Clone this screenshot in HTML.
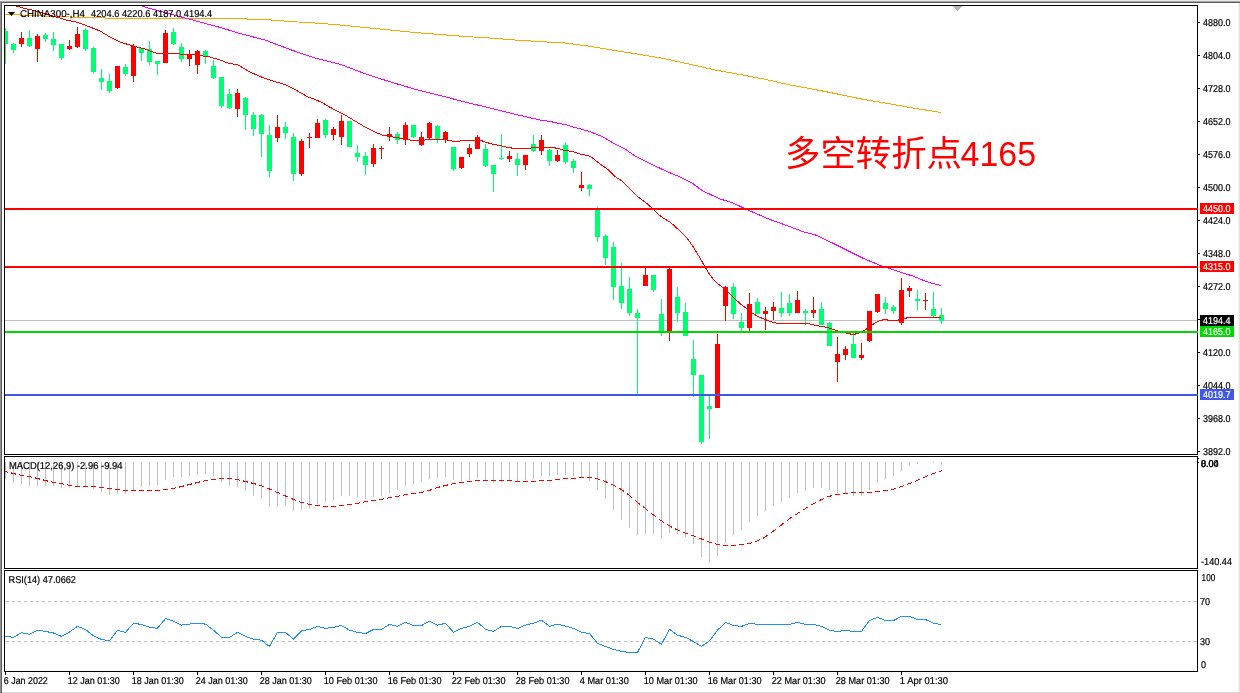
<!DOCTYPE html>
<html lang="zh"><head><meta charset="utf-8"><title>CHINA300 H4</title>
<style>
html,body{margin:0;padding:0;background:#fff;}
body{width:1240px;height:693px;overflow:hidden;}
svg{display:block;}
svg{will-change:transform;}
</style></head><body>
<svg width="1240" height="693" viewBox="0 0 1240 693" shape-rendering="crispEdges">
<rect x="0" y="0" width="1240" height="693" fill="#ffffff"/>
<rect x="0" y="0" width="1240" height="1" fill="#e8e8e8"/>
<rect x="0" y="1" width="1240" height="1" fill="#a8a8a8"/>
<rect x="0" y="2" width="1240" height="1" fill="#5c5c5c"/>
<rect x="0" y="2" width="1" height="693" fill="#909090"/>
<rect x="1" y="2" width="1" height="693" fill="#5c5c5c"/>
<rect x="1238" y="3" width="1" height="693" fill="#f3f3f3"/>
<rect x="1239" y="3" width="1" height="693" fill="#e2e2e2"/>
<rect x="2" y="692" width="1240" height="1" fill="#dadada"/>
<rect x="5" y="320" width="1192" height="1" fill="#c0c0c0"/>
<g id="candles">
<rect x="5" y="28" width="1" height="36" fill="#00ff72"/>
<rect x="5" y="31" width="3" height="13" fill="#00ff72"/>
<rect x="13" y="43" width="1" height="10" fill="#00ff72"/>
<rect x="11" y="44" width="5" height="6" fill="#00ff72"/>
<rect x="21" y="32" width="1" height="15" fill="#ff0000"/>
<rect x="19" y="38" width="5" height="6" fill="#ff0000"/>
<rect x="29" y="30" width="1" height="17" fill="#00ff72"/>
<rect x="27" y="38" width="5" height="8" fill="#00ff72"/>
<rect x="37" y="34" width="1" height="28" fill="#ff0000"/>
<rect x="35" y="36" width="5" height="13" fill="#ff0000"/>
<rect x="45" y="33" width="1" height="9" fill="#00ff72"/>
<rect x="43" y="35" width="5" height="4" fill="#00ff72"/>
<rect x="53" y="32" width="1" height="19" fill="#00ff72"/>
<rect x="51" y="39" width="5" height="6" fill="#00ff72"/>
<rect x="61" y="44" width="1" height="16" fill="#00ff72"/>
<rect x="59" y="44" width="5" height="14" fill="#00ff72"/>
<rect x="69" y="40" width="1" height="10" fill="#ff0000"/>
<rect x="67" y="46" width="5" height="3" fill="#ff0000"/>
<rect x="77" y="27" width="1" height="21" fill="#ff0000"/>
<rect x="75" y="34" width="5" height="13" fill="#ff0000"/>
<rect x="85" y="28" width="1" height="23" fill="#00ff72"/>
<rect x="83" y="30" width="5" height="19" fill="#00ff72"/>
<rect x="93" y="47" width="1" height="26" fill="#00ff72"/>
<rect x="91" y="48" width="5" height="24" fill="#00ff72"/>
<rect x="101" y="69" width="1" height="21" fill="#00ff72"/>
<rect x="99" y="78" width="5" height="4" fill="#00ff72"/>
<rect x="109" y="74" width="1" height="19" fill="#00ff72"/>
<rect x="107" y="81" width="5" height="10" fill="#00ff72"/>
<rect x="117" y="66" width="1" height="23" fill="#ff0000"/>
<rect x="115" y="66" width="5" height="22" fill="#ff0000"/>
<rect x="125" y="64" width="1" height="12" fill="#00ff72"/>
<rect x="123" y="67" width="5" height="7" fill="#00ff72"/>
<rect x="133" y="44" width="1" height="38" fill="#ff0000"/>
<rect x="131" y="46" width="5" height="30" fill="#ff0000"/>
<rect x="141" y="48" width="1" height="13" fill="#00ff72"/>
<rect x="139" y="48" width="5" height="5" fill="#00ff72"/>
<rect x="149" y="41" width="1" height="24" fill="#00ff72"/>
<rect x="147" y="49" width="5" height="13" fill="#00ff72"/>
<rect x="157" y="61" width="1" height="14" fill="#00ff72"/>
<rect x="155" y="61" width="5" height="3" fill="#00ff72"/>
<rect x="165" y="30" width="1" height="33" fill="#ff0000"/>
<rect x="163" y="33" width="5" height="30" fill="#ff0000"/>
<rect x="173" y="28" width="1" height="17" fill="#00ff72"/>
<rect x="171" y="32" width="5" height="12" fill="#00ff72"/>
<rect x="181" y="43" width="1" height="19" fill="#00ff72"/>
<rect x="179" y="47" width="5" height="12" fill="#00ff72"/>
<rect x="189" y="50" width="1" height="16" fill="#ff0000"/>
<rect x="187" y="54" width="5" height="5" fill="#ff0000"/>
<rect x="197" y="50" width="1" height="24" fill="#ff0000"/>
<rect x="195" y="51" width="5" height="14" fill="#ff0000"/>
<rect x="205" y="50" width="1" height="14" fill="#00ff72"/>
<rect x="203" y="51" width="5" height="5" fill="#00ff72"/>
<rect x="213" y="60" width="1" height="19" fill="#00ff72"/>
<rect x="211" y="66" width="5" height="12" fill="#00ff72"/>
<rect x="221" y="77" width="1" height="31" fill="#00ff72"/>
<rect x="219" y="77" width="5" height="29" fill="#00ff72"/>
<rect x="229" y="89" width="1" height="20" fill="#00ff72"/>
<rect x="227" y="94" width="5" height="14" fill="#00ff72"/>
<rect x="237" y="89" width="1" height="28" fill="#ff0000"/>
<rect x="235" y="93" width="5" height="16" fill="#ff0000"/>
<rect x="245" y="97" width="1" height="33" fill="#00ff72"/>
<rect x="243" y="98" width="5" height="17" fill="#00ff72"/>
<rect x="253" y="112" width="1" height="24" fill="#00ff72"/>
<rect x="251" y="115" width="5" height="14" fill="#00ff72"/>
<rect x="261" y="114" width="1" height="43" fill="#00ff72"/>
<rect x="259" y="115" width="5" height="19" fill="#00ff72"/>
<rect x="269" y="125" width="1" height="52" fill="#00ff72"/>
<rect x="267" y="135" width="5" height="36" fill="#00ff72"/>
<rect x="277" y="115" width="1" height="27" fill="#ff0000"/>
<rect x="275" y="127" width="5" height="11" fill="#ff0000"/>
<rect x="285" y="122" width="1" height="17" fill="#00ff72"/>
<rect x="283" y="127" width="5" height="6" fill="#00ff72"/>
<rect x="293" y="133" width="1" height="48" fill="#00ff72"/>
<rect x="291" y="137" width="5" height="37" fill="#00ff72"/>
<rect x="301" y="139" width="1" height="37" fill="#ff0000"/>
<rect x="299" y="141" width="5" height="33" fill="#ff0000"/>
<rect x="309" y="133" width="1" height="15" fill="#ff0000"/>
<rect x="307" y="137" width="5" height="1" fill="#ff0000"/>
<rect x="317" y="119" width="1" height="19" fill="#ff0000"/>
<rect x="315" y="123" width="5" height="15" fill="#ff0000"/>
<rect x="325" y="119" width="1" height="19" fill="#00ff72"/>
<rect x="323" y="120" width="5" height="15" fill="#00ff72"/>
<rect x="333" y="127" width="1" height="13" fill="#ff0000"/>
<rect x="331" y="129" width="5" height="6" fill="#ff0000"/>
<rect x="341" y="115" width="1" height="30" fill="#ff0000"/>
<rect x="339" y="121" width="5" height="16" fill="#ff0000"/>
<rect x="349" y="121" width="1" height="26" fill="#00ff72"/>
<rect x="347" y="121" width="5" height="26" fill="#00ff72"/>
<rect x="357" y="145" width="1" height="17" fill="#00ff72"/>
<rect x="355" y="153" width="5" height="4" fill="#00ff72"/>
<rect x="365" y="152" width="1" height="23" fill="#00ff72"/>
<rect x="363" y="156" width="5" height="9" fill="#00ff72"/>
<rect x="373" y="144" width="1" height="23" fill="#ff0000"/>
<rect x="371" y="148" width="5" height="16" fill="#ff0000"/>
<rect x="381" y="146" width="1" height="13" fill="#ff0000"/>
<rect x="379" y="148" width="5" height="1" fill="#ff0000"/>
<rect x="389" y="127" width="1" height="14" fill="#ff0000"/>
<rect x="387" y="134" width="5" height="3" fill="#ff0000"/>
<rect x="397" y="132" width="1" height="12" fill="#00ff72"/>
<rect x="395" y="134" width="5" height="6" fill="#00ff72"/>
<rect x="405" y="122" width="1" height="23" fill="#ff0000"/>
<rect x="403" y="125" width="5" height="15" fill="#ff0000"/>
<rect x="413" y="125" width="1" height="13" fill="#00ff72"/>
<rect x="411" y="125" width="5" height="12" fill="#00ff72"/>
<rect x="421" y="132" width="1" height="14" fill="#ff0000"/>
<rect x="419" y="137" width="5" height="8" fill="#ff0000"/>
<rect x="429" y="122" width="1" height="17" fill="#ff0000"/>
<rect x="427" y="123" width="5" height="15" fill="#ff0000"/>
<rect x="437" y="125" width="1" height="18" fill="#00ff72"/>
<rect x="435" y="126" width="5" height="13" fill="#00ff72"/>
<rect x="445" y="131" width="1" height="12" fill="#ff0000"/>
<rect x="443" y="132" width="5" height="8" fill="#ff0000"/>
<rect x="453" y="147" width="1" height="24" fill="#00ff72"/>
<rect x="451" y="147" width="5" height="22" fill="#00ff72"/>
<rect x="461" y="157" width="1" height="12" fill="#ff0000"/>
<rect x="459" y="157" width="5" height="11" fill="#ff0000"/>
<rect x="469" y="144" width="1" height="13" fill="#ff0000"/>
<rect x="467" y="148" width="5" height="6" fill="#ff0000"/>
<rect x="477" y="135" width="1" height="14" fill="#ff0000"/>
<rect x="475" y="137" width="5" height="12" fill="#ff0000"/>
<rect x="485" y="144" width="1" height="23" fill="#00ff72"/>
<rect x="483" y="149" width="5" height="17" fill="#00ff72"/>
<rect x="493" y="165" width="1" height="27" fill="#00ff72"/>
<rect x="491" y="165" width="5" height="9" fill="#00ff72"/>
<rect x="501" y="134" width="1" height="26" fill="#00ff72"/>
<rect x="499" y="158" width="5" height="1" fill="#00ff72"/>
<rect x="509" y="151" width="1" height="11" fill="#ff0000"/>
<rect x="507" y="156" width="5" height="3" fill="#ff0000"/>
<rect x="517" y="153" width="1" height="23" fill="#00ff72"/>
<rect x="515" y="159" width="5" height="6" fill="#00ff72"/>
<rect x="525" y="155" width="1" height="15" fill="#ff0000"/>
<rect x="523" y="155" width="5" height="10" fill="#ff0000"/>
<rect x="533" y="135" width="1" height="17" fill="#00ff72"/>
<rect x="531" y="144" width="5" height="7" fill="#00ff72"/>
<rect x="541" y="135" width="1" height="20" fill="#ff0000"/>
<rect x="539" y="140" width="5" height="11" fill="#ff0000"/>
<rect x="549" y="149" width="1" height="17" fill="#00ff72"/>
<rect x="547" y="150" width="5" height="11" fill="#00ff72"/>
<rect x="557" y="150" width="1" height="12" fill="#ff0000"/>
<rect x="555" y="155" width="5" height="6" fill="#ff0000"/>
<rect x="565" y="142" width="1" height="22" fill="#00ff72"/>
<rect x="563" y="145" width="5" height="17" fill="#00ff72"/>
<rect x="573" y="159" width="1" height="14" fill="#00ff72"/>
<rect x="571" y="161" width="5" height="7" fill="#00ff72"/>
<rect x="581" y="172" width="1" height="19" fill="#ff0000"/>
<rect x="579" y="185" width="5" height="3" fill="#ff0000"/>
<rect x="589" y="184" width="1" height="12" fill="#00ff72"/>
<rect x="587" y="185" width="5" height="4" fill="#00ff72"/>
<rect x="597" y="207" width="1" height="35" fill="#00ff72"/>
<rect x="595" y="208" width="5" height="29" fill="#00ff72"/>
<rect x="605" y="234" width="1" height="31" fill="#00ff72"/>
<rect x="603" y="236" width="5" height="22" fill="#00ff72"/>
<rect x="613" y="242" width="1" height="58" fill="#00ff72"/>
<rect x="611" y="247" width="5" height="40" fill="#00ff72"/>
<rect x="621" y="263" width="1" height="46" fill="#00ff72"/>
<rect x="619" y="286" width="5" height="17" fill="#00ff72"/>
<rect x="629" y="277" width="1" height="39" fill="#00ff72"/>
<rect x="627" y="289" width="5" height="24" fill="#00ff72"/>
<rect x="637" y="309" width="1" height="85" fill="#00ff72"/>
<rect x="635" y="313" width="5" height="5" fill="#00ff72"/>
<rect x="645" y="268" width="1" height="18" fill="#ff0000"/>
<rect x="643" y="275" width="5" height="11" fill="#ff0000"/>
<rect x="653" y="275" width="1" height="17" fill="#00ff72"/>
<rect x="651" y="275" width="5" height="15" fill="#00ff72"/>
<rect x="661" y="299" width="1" height="37" fill="#00ff72"/>
<rect x="659" y="314" width="5" height="18" fill="#00ff72"/>
<rect x="669" y="268" width="1" height="73" fill="#ff0000"/>
<rect x="667" y="269" width="5" height="62" fill="#ff0000"/>
<rect x="677" y="287" width="1" height="35" fill="#00ff72"/>
<rect x="675" y="297" width="5" height="16" fill="#00ff72"/>
<rect x="685" y="303" width="1" height="33" fill="#00ff72"/>
<rect x="683" y="312" width="5" height="24" fill="#00ff72"/>
<rect x="693" y="340" width="1" height="57" fill="#00ff72"/>
<rect x="691" y="359" width="5" height="16" fill="#00ff72"/>
<rect x="701" y="375" width="1" height="69" fill="#00ff72"/>
<rect x="699" y="375" width="5" height="67" fill="#00ff72"/>
<rect x="709" y="396" width="1" height="43" fill="#00ff72"/>
<rect x="707" y="406" width="5" height="3" fill="#00ff72"/>
<rect x="717" y="334" width="1" height="74" fill="#ff0000"/>
<rect x="715" y="344" width="5" height="64" fill="#ff0000"/>
<rect x="725" y="286" width="1" height="35" fill="#ff0000"/>
<rect x="723" y="287" width="5" height="19" fill="#ff0000"/>
<rect x="733" y="283" width="1" height="36" fill="#00ff72"/>
<rect x="731" y="287" width="5" height="27" fill="#00ff72"/>
<rect x="741" y="313" width="1" height="18" fill="#00ff72"/>
<rect x="739" y="322" width="5" height="6" fill="#00ff72"/>
<rect x="749" y="293" width="1" height="38" fill="#ff0000"/>
<rect x="747" y="304" width="5" height="24" fill="#ff0000"/>
<rect x="757" y="298" width="1" height="16" fill="#00ff72"/>
<rect x="755" y="302" width="5" height="12" fill="#00ff72"/>
<rect x="765" y="307" width="1" height="23" fill="#ff0000"/>
<rect x="763" y="311" width="5" height="3" fill="#ff0000"/>
<rect x="773" y="302" width="1" height="18" fill="#ff0000"/>
<rect x="771" y="307" width="5" height="4" fill="#ff0000"/>
<rect x="781" y="292" width="1" height="25" fill="#00ff72"/>
<rect x="779" y="308" width="5" height="5" fill="#00ff72"/>
<rect x="789" y="294" width="1" height="22" fill="#00ff72"/>
<rect x="787" y="303" width="5" height="10" fill="#00ff72"/>
<rect x="797" y="291" width="1" height="22" fill="#ff0000"/>
<rect x="795" y="300" width="5" height="13" fill="#ff0000"/>
<rect x="805" y="309" width="1" height="16" fill="#00ff72"/>
<rect x="803" y="311" width="5" height="2" fill="#00ff72"/>
<rect x="813" y="297" width="1" height="21" fill="#ff0000"/>
<rect x="811" y="310" width="5" height="3" fill="#ff0000"/>
<rect x="821" y="302" width="1" height="23" fill="#00ff72"/>
<rect x="819" y="309" width="5" height="16" fill="#00ff72"/>
<rect x="829" y="322" width="1" height="24" fill="#00ff72"/>
<rect x="827" y="323" width="5" height="23" fill="#00ff72"/>
<rect x="837" y="337" width="1" height="45" fill="#ff0000"/>
<rect x="835" y="354" width="5" height="8" fill="#ff0000"/>
<rect x="845" y="346" width="1" height="14" fill="#ff0000"/>
<rect x="843" y="349" width="5" height="6" fill="#ff0000"/>
<rect x="853" y="333" width="1" height="25" fill="#00ff72"/>
<rect x="851" y="344" width="5" height="14" fill="#00ff72"/>
<rect x="861" y="343" width="1" height="17" fill="#ff0000"/>
<rect x="859" y="355" width="5" height="3" fill="#ff0000"/>
<rect x="869" y="311" width="1" height="31" fill="#ff0000"/>
<rect x="867" y="311" width="5" height="30" fill="#ff0000"/>
<rect x="877" y="294" width="1" height="19" fill="#ff0000"/>
<rect x="875" y="294" width="5" height="18" fill="#ff0000"/>
<rect x="885" y="297" width="1" height="17" fill="#00ff72"/>
<rect x="883" y="303" width="5" height="6" fill="#00ff72"/>
<rect x="893" y="305" width="1" height="9" fill="#00ff72"/>
<rect x="891" y="307" width="5" height="4" fill="#00ff72"/>
<rect x="901" y="278" width="1" height="47" fill="#ff0000"/>
<rect x="899" y="290" width="5" height="33" fill="#ff0000"/>
<rect x="909" y="286" width="1" height="11" fill="#ff0000"/>
<rect x="907" y="288" width="5" height="3" fill="#ff0000"/>
<rect x="917" y="290" width="1" height="20" fill="#00ff72"/>
<rect x="915" y="299" width="5" height="2" fill="#00ff72"/>
<rect x="925" y="293" width="1" height="17" fill="#ff0000"/>
<rect x="923" y="300" width="5" height="1" fill="#ff0000"/>
<rect x="933" y="292" width="1" height="25" fill="#00ff72"/>
<rect x="931" y="309" width="5" height="7" fill="#00ff72"/>
<rect x="941" y="308" width="1" height="16" fill="#00ff72"/>
<rect x="939" y="315" width="5" height="6" fill="#00ff72"/>
</g>
<polyline points="5,14.5 20,15 49,16.2 82,17.5 114,18.2 150,18.2 200,18.4 240,18.8 265,19.5 290,21.5 315,23 340,25 365,27.5 390,30 415,32.5 440,34.5 465,36.5 490,38 515,40 540,41.6 565,43 590,46.25 615,50.5 640,54.5 665,58.75 690,64.25 715,70 740,74.5 765,79.25 790,85 815,89.5 840,94.5 860,98.75 885,103 910,107.5 941,112.5" fill="none" stroke="#ffa500" stroke-width="1" />
<polyline points="140,5.5 150,8.5 165,12.5 180,16.6 200,22 213,25.5 220,27.4 240,33.5 265,40 290,49.5 315,58 340,64.25 352,68.75 365,73.75 390,81.75 415,89.25 440,95.5 465,102 490,108 515,114.25 540,120 550,121.5 567,125 575,127.5 590,131.5 603,137 615,144 625,149 635,156 645,161 654,165.5 668,172 680,177 692,183 702,190.5 720,199 732,202.5 748,210 768,218.75 788,226 804,232 814.5,234.5 832.5,243 848.5,251 864.6,259 880.6,265.5 896.7,271 912.7,276 925,281 933,283.5 941,285.5" fill="none" stroke="#ff00ff" stroke-width="1" />
<polyline points="16,6 25,8.5 36,11 50,15 58,17.5 66,20 78,22.5 90,27 100,31 110,37 120,42 133,46 145,49 157,53.5 165,53.5 180,54 196,55 210,57 220,60 228,63 238,65 250,72 260,76.5 270,80 278,82.5 286,85 294,89 300,92.5 308,97 315,99.5 322,102.5 326,105 335,110 345,115 355,121 365,127 375,132 382,135 388,135.5 395,137.5 402,138.5 410,140 418,140.5 425,140 433,139.5 445,139.5 452,141 457,141.5 465,140 480,140 485,142 492,144 500,145.5 508,147.5 515,148.5 528,148.5 535,147.5 553,147.5 558,148.5 565,150.5 572,151.5 580,154 588,155.5 592,157.5 600,164 608,169.5 615,176.5 622,181 625,184 633,192 638,197 645,202 652,208 658,214 663,218 670,222 680,231 687,238 694,248 700,258 705,267 710,275 714,280 718,284 723,287.5 728,292 735,299 740,303.5 747,309 752,313 758,316.5 765,319.5 772,322 778,323.5 808,323.5 812,324.5 816,325.5 822,326.5 828,327.5 832,329 836,330.5 848,333.5 853,334.5 858,333.5 863,331 866,329.5 872,325 876,322.5 880,320.5 885,319.5 890,320.5 897,320.5 900,319.5 905,318.5 908,317.5 941,317.5" fill="none" stroke="#ff0000" stroke-width="1" />
<polygon points="953,6 962,6 957.5,11" fill="#b8b8b8"/>
<rect x="5" y="462" width="1" height="17" fill="#c0c0c0"/>
<rect x="13" y="462" width="1" height="21" fill="#c0c0c0"/>
<rect x="21" y="462" width="1" height="22" fill="#c0c0c0"/>
<rect x="29" y="462" width="1" height="24" fill="#c0c0c0"/>
<rect x="37" y="462" width="1" height="24" fill="#c0c0c0"/>
<rect x="45" y="462" width="1" height="24" fill="#c0c0c0"/>
<rect x="53" y="462" width="1" height="24" fill="#c0c0c0"/>
<rect x="61" y="462" width="1" height="26" fill="#c0c0c0"/>
<rect x="69" y="462" width="1" height="26" fill="#c0c0c0"/>
<rect x="77" y="462" width="1" height="25" fill="#c0c0c0"/>
<rect x="85" y="462" width="1" height="25" fill="#c0c0c0"/>
<rect x="93" y="462" width="1" height="27" fill="#c0c0c0"/>
<rect x="101" y="462" width="1" height="30" fill="#c0c0c0"/>
<rect x="109" y="462" width="1" height="33" fill="#c0c0c0"/>
<rect x="117" y="462" width="1" height="32" fill="#c0c0c0"/>
<rect x="125" y="462" width="1" height="32" fill="#c0c0c0"/>
<rect x="133" y="462" width="1" height="29" fill="#c0c0c0"/>
<rect x="141" y="462" width="1" height="25" fill="#c0c0c0"/>
<rect x="149" y="462" width="1" height="24" fill="#c0c0c0"/>
<rect x="157" y="462" width="1" height="23" fill="#c0c0c0"/>
<rect x="165" y="462" width="1" height="18" fill="#c0c0c0"/>
<rect x="173" y="462" width="1" height="15" fill="#c0c0c0"/>
<rect x="181" y="462" width="1" height="15" fill="#c0c0c0"/>
<rect x="189" y="462" width="1" height="14" fill="#c0c0c0"/>
<rect x="197" y="462" width="1" height="13" fill="#c0c0c0"/>
<rect x="205" y="462" width="1" height="12" fill="#c0c0c0"/>
<rect x="213" y="462" width="1" height="14" fill="#c0c0c0"/>
<rect x="221" y="462" width="1" height="20" fill="#c0c0c0"/>
<rect x="229" y="462" width="1" height="24" fill="#c0c0c0"/>
<rect x="237" y="462" width="1" height="25" fill="#c0c0c0"/>
<rect x="245" y="462" width="1" height="29" fill="#c0c0c0"/>
<rect x="253" y="462" width="1" height="34" fill="#c0c0c0"/>
<rect x="261" y="462" width="1" height="37" fill="#c0c0c0"/>
<rect x="269" y="462" width="1" height="45" fill="#c0c0c0"/>
<rect x="277" y="462" width="1" height="45" fill="#c0c0c0"/>
<rect x="285" y="462" width="1" height="44" fill="#c0c0c0"/>
<rect x="293" y="462" width="1" height="49" fill="#c0c0c0"/>
<rect x="301" y="462" width="1" height="48" fill="#c0c0c0"/>
<rect x="309" y="462" width="1" height="46" fill="#c0c0c0"/>
<rect x="317" y="462" width="1" height="42" fill="#c0c0c0"/>
<rect x="325" y="462" width="1" height="40" fill="#c0c0c0"/>
<rect x="333" y="462" width="1" height="38" fill="#c0c0c0"/>
<rect x="341" y="462" width="1" height="34" fill="#c0c0c0"/>
<rect x="349" y="462" width="1" height="34" fill="#c0c0c0"/>
<rect x="357" y="462" width="1" height="35" fill="#c0c0c0"/>
<rect x="365" y="462" width="1" height="37" fill="#c0c0c0"/>
<rect x="373" y="462" width="1" height="35" fill="#c0c0c0"/>
<rect x="381" y="462" width="1" height="34" fill="#c0c0c0"/>
<rect x="389" y="462" width="1" height="31" fill="#c0c0c0"/>
<rect x="397" y="462" width="1" height="28" fill="#c0c0c0"/>
<rect x="405" y="462" width="1" height="24" fill="#c0c0c0"/>
<rect x="413" y="462" width="1" height="22" fill="#c0c0c0"/>
<rect x="421" y="462" width="1" height="20" fill="#c0c0c0"/>
<rect x="429" y="462" width="1" height="17" fill="#c0c0c0"/>
<rect x="437" y="462" width="1" height="16" fill="#c0c0c0"/>
<rect x="445" y="462" width="1" height="15" fill="#c0c0c0"/>
<rect x="453" y="462" width="1" height="18" fill="#c0c0c0"/>
<rect x="461" y="462" width="1" height="19" fill="#c0c0c0"/>
<rect x="469" y="462" width="1" height="18" fill="#c0c0c0"/>
<rect x="477" y="462" width="1" height="16" fill="#c0c0c0"/>
<rect x="485" y="462" width="1" height="18" fill="#c0c0c0"/>
<rect x="493" y="462" width="1" height="21" fill="#c0c0c0"/>
<rect x="501" y="462" width="1" height="20" fill="#c0c0c0"/>
<rect x="509" y="462" width="1" height="19" fill="#c0c0c0"/>
<rect x="517" y="462" width="1" height="19" fill="#c0c0c0"/>
<rect x="525" y="462" width="1" height="18" fill="#c0c0c0"/>
<rect x="533" y="462" width="1" height="17" fill="#c0c0c0"/>
<rect x="541" y="462" width="1" height="14" fill="#c0c0c0"/>
<rect x="549" y="462" width="1" height="14" fill="#c0c0c0"/>
<rect x="557" y="462" width="1" height="13" fill="#c0c0c0"/>
<rect x="565" y="462" width="1" height="13" fill="#c0c0c0"/>
<rect x="573" y="462" width="1" height="14" fill="#c0c0c0"/>
<rect x="581" y="462" width="1" height="16" fill="#c0c0c0"/>
<rect x="589" y="462" width="1" height="19" fill="#c0c0c0"/>
<rect x="597" y="462" width="1" height="28" fill="#c0c0c0"/>
<rect x="605" y="462" width="1" height="37" fill="#c0c0c0"/>
<rect x="613" y="462" width="1" height="48" fill="#c0c0c0"/>
<rect x="621" y="462" width="1" height="58" fill="#c0c0c0"/>
<rect x="629" y="462" width="1" height="66" fill="#c0c0c0"/>
<rect x="637" y="462" width="1" height="73" fill="#c0c0c0"/>
<rect x="645" y="462" width="1" height="72" fill="#c0c0c0"/>
<rect x="653" y="462" width="1" height="72" fill="#c0c0c0"/>
<rect x="661" y="462" width="1" height="77" fill="#c0c0c0"/>
<rect x="669" y="462" width="1" height="71" fill="#c0c0c0"/>
<rect x="677" y="462" width="1" height="72" fill="#c0c0c0"/>
<rect x="685" y="462" width="1" height="75" fill="#c0c0c0"/>
<rect x="693" y="462" width="1" height="82" fill="#c0c0c0"/>
<rect x="701" y="462" width="1" height="95" fill="#c0c0c0"/>
<rect x="709" y="462" width="1" height="101" fill="#c0c0c0"/>
<rect x="717" y="462" width="1" height="94" fill="#c0c0c0"/>
<rect x="725" y="462" width="1" height="81" fill="#c0c0c0"/>
<rect x="733" y="462" width="1" height="73" fill="#c0c0c0"/>
<rect x="741" y="462" width="1" height="68" fill="#c0c0c0"/>
<rect x="749" y="462" width="1" height="60" fill="#c0c0c0"/>
<rect x="757" y="462" width="1" height="54" fill="#c0c0c0"/>
<rect x="765" y="462" width="1" height="49" fill="#c0c0c0"/>
<rect x="773" y="462" width="1" height="44" fill="#c0c0c0"/>
<rect x="781" y="462" width="1" height="40" fill="#c0c0c0"/>
<rect x="789" y="462" width="1" height="36" fill="#c0c0c0"/>
<rect x="797" y="462" width="1" height="31" fill="#c0c0c0"/>
<rect x="805" y="462" width="1" height="29" fill="#c0c0c0"/>
<rect x="813" y="462" width="1" height="26" fill="#c0c0c0"/>
<rect x="821" y="462" width="1" height="26" fill="#c0c0c0"/>
<rect x="829" y="462" width="1" height="28" fill="#c0c0c0"/>
<rect x="837" y="462" width="1" height="31" fill="#c0c0c0"/>
<rect x="845" y="462" width="1" height="31" fill="#c0c0c0"/>
<rect x="853" y="462" width="1" height="34" fill="#c0c0c0"/>
<rect x="861" y="462" width="1" height="34" fill="#c0c0c0"/>
<rect x="869" y="462" width="1" height="28" fill="#c0c0c0"/>
<rect x="877" y="462" width="1" height="21" fill="#c0c0c0"/>
<rect x="885" y="462" width="1" height="17" fill="#c0c0c0"/>
<rect x="893" y="462" width="1" height="14" fill="#c0c0c0"/>
<rect x="901" y="462" width="1" height="9" fill="#c0c0c0"/>
<rect x="909" y="462" width="1" height="4" fill="#c0c0c0"/>
<rect x="917" y="462" width="1" height="2" fill="#c0c0c0"/>
<rect x="933" y="462" width="1" height="1" fill="#c0c0c0"/>
<rect x="941" y="462" width="1" height="3" fill="#c0c0c0"/>
<line x1="5" y1="471.5" x2="8" y2="472.125" stroke="#ff0000" stroke-width="1"/>
<line x1="11" y1="472.875" x2="16" y2="474.125" stroke="#ff0000" stroke-width="1"/>
<line x1="19" y1="474.875" x2="24" y2="475.812" stroke="#ff0000" stroke-width="1"/>
<line x1="27" y1="476.188" x2="32" y2="477.125" stroke="#ff0000" stroke-width="1"/>
<line x1="35" y1="477.875" x2="40" y2="479.125" stroke="#ff0000" stroke-width="1"/>
<line x1="43" y1="479.875" x2="48" y2="481.125" stroke="#ff0000" stroke-width="1"/>
<line x1="51" y1="481.875" x2="56" y2="482.812" stroke="#ff0000" stroke-width="1"/>
<line x1="59" y1="483.188" x2="64" y2="484.125" stroke="#ff0000" stroke-width="1"/>
<line x1="67" y1="484.875" x2="72" y2="485.812" stroke="#ff0000" stroke-width="1"/>
<line x1="75" y1="486.188" x2="80" y2="486.5" stroke="#ff0000" stroke-width="1"/>
<line x1="83" y1="486.5" x2="88" y2="486.5" stroke="#ff0000" stroke-width="1"/>
<line x1="91" y1="486.5" x2="96" y2="486.812" stroke="#ff0000" stroke-width="1"/>
<line x1="99" y1="487.188" x2="104" y2="487.812" stroke="#ff0000" stroke-width="1"/>
<line x1="107" y1="488.188" x2="112" y2="488.812" stroke="#ff0000" stroke-width="1"/>
<line x1="115" y1="489.188" x2="120" y2="489.812" stroke="#ff0000" stroke-width="1"/>
<line x1="123" y1="490.188" x2="128" y2="490.5" stroke="#ff0000" stroke-width="1"/>
<line x1="131" y1="490.5" x2="136" y2="490.5" stroke="#ff0000" stroke-width="1"/>
<line x1="139" y1="490.5" x2="144" y2="490.5" stroke="#ff0000" stroke-width="1"/>
<line x1="147" y1="490.5" x2="152" y2="490.5" stroke="#ff0000" stroke-width="1"/>
<line x1="155" y1="490.5" x2="160" y2="490.188" stroke="#ff0000" stroke-width="1"/>
<line x1="163" y1="489.812" x2="168" y2="489.188" stroke="#ff0000" stroke-width="1"/>
<line x1="171" y1="488.812" x2="176" y2="487.875" stroke="#ff0000" stroke-width="1"/>
<line x1="179" y1="487.125" x2="184" y2="485.875" stroke="#ff0000" stroke-width="1"/>
<line x1="187" y1="485.125" x2="192" y2="483.875" stroke="#ff0000" stroke-width="1"/>
<line x1="195" y1="483.125" x2="200" y2="481.875" stroke="#ff0000" stroke-width="1"/>
<line x1="203" y1="481.125" x2="208" y2="480.188" stroke="#ff0000" stroke-width="1"/>
<line x1="211" y1="479.812" x2="216" y2="479.188" stroke="#ff0000" stroke-width="1"/>
<line x1="219" y1="478.812" x2="224" y2="478.5" stroke="#ff0000" stroke-width="1"/>
<line x1="227" y1="478.5" x2="232" y2="478.812" stroke="#ff0000" stroke-width="1"/>
<line x1="235" y1="479.188" x2="240" y2="480.125" stroke="#ff0000" stroke-width="1"/>
<line x1="243" y1="480.875" x2="248" y2="482.125" stroke="#ff0000" stroke-width="1"/>
<line x1="251" y1="482.875" x2="256" y2="484.125" stroke="#ff0000" stroke-width="1"/>
<line x1="259" y1="484.875" x2="264" y2="486.594" stroke="#ff0000" stroke-width="1"/>
<line x1="267" y1="487.906" x2="272" y2="490.094" stroke="#ff0000" stroke-width="1"/>
<line x1="275" y1="491.406" x2="280" y2="493.594" stroke="#ff0000" stroke-width="1"/>
<line x1="283" y1="494.906" x2="288" y2="497.094" stroke="#ff0000" stroke-width="1"/>
<line x1="291" y1="498.406" x2="296" y2="500.438" stroke="#ff0000" stroke-width="1"/>
<line x1="299" y1="501.562" x2="304" y2="503.125" stroke="#ff0000" stroke-width="1"/>
<line x1="307" y1="503.875" x2="312" y2="504.812" stroke="#ff0000" stroke-width="1"/>
<line x1="315" y1="505.188" x2="320" y2="505.812" stroke="#ff0000" stroke-width="1"/>
<line x1="323" y1="506.188" x2="328" y2="506.5" stroke="#ff0000" stroke-width="1"/>
<line x1="331" y1="506.5" x2="336" y2="506.188" stroke="#ff0000" stroke-width="1"/>
<line x1="339" y1="505.812" x2="344" y2="505.188" stroke="#ff0000" stroke-width="1"/>
<line x1="347" y1="504.812" x2="352" y2="504.188" stroke="#ff0000" stroke-width="1"/>
<line x1="355" y1="503.812" x2="360" y2="502.875" stroke="#ff0000" stroke-width="1"/>
<line x1="363" y1="502.125" x2="368" y2="501.188" stroke="#ff0000" stroke-width="1"/>
<line x1="371" y1="500.812" x2="376" y2="500.188" stroke="#ff0000" stroke-width="1"/>
<line x1="379" y1="499.812" x2="384" y2="498.875" stroke="#ff0000" stroke-width="1"/>
<line x1="387" y1="498.125" x2="392" y2="497.188" stroke="#ff0000" stroke-width="1"/>
<line x1="395" y1="496.812" x2="400" y2="495.875" stroke="#ff0000" stroke-width="1"/>
<line x1="403" y1="495.125" x2="408" y2="494.188" stroke="#ff0000" stroke-width="1"/>
<line x1="411" y1="493.812" x2="416" y2="493.188" stroke="#ff0000" stroke-width="1"/>
<line x1="419" y1="492.812" x2="424" y2="491.875" stroke="#ff0000" stroke-width="1"/>
<line x1="427" y1="491.125" x2="432" y2="489.562" stroke="#ff0000" stroke-width="1"/>
<line x1="435" y1="488.438" x2="440" y2="486.875" stroke="#ff0000" stroke-width="1"/>
<line x1="443" y1="486.125" x2="448" y2="484.875" stroke="#ff0000" stroke-width="1"/>
<line x1="451" y1="484.125" x2="456" y2="483.188" stroke="#ff0000" stroke-width="1"/>
<line x1="459" y1="482.812" x2="464" y2="482.188" stroke="#ff0000" stroke-width="1"/>
<line x1="467" y1="481.812" x2="472" y2="481.188" stroke="#ff0000" stroke-width="1"/>
<line x1="475" y1="480.812" x2="480" y2="480.5" stroke="#ff0000" stroke-width="1"/>
<line x1="483" y1="480.5" x2="488" y2="480.5" stroke="#ff0000" stroke-width="1"/>
<line x1="491" y1="480.5" x2="496" y2="480.5" stroke="#ff0000" stroke-width="1"/>
<line x1="499" y1="480.5" x2="504" y2="480.5" stroke="#ff0000" stroke-width="1"/>
<line x1="507" y1="480.5" x2="512" y2="480.812" stroke="#ff0000" stroke-width="1"/>
<line x1="515" y1="481.188" x2="520" y2="481.5" stroke="#ff0000" stroke-width="1"/>
<line x1="523" y1="481.5" x2="528" y2="481.5" stroke="#ff0000" stroke-width="1"/>
<line x1="531" y1="481.5" x2="536" y2="481.188" stroke="#ff0000" stroke-width="1"/>
<line x1="539" y1="480.812" x2="544" y2="480.5" stroke="#ff0000" stroke-width="1"/>
<line x1="547" y1="480.5" x2="552" y2="480.188" stroke="#ff0000" stroke-width="1"/>
<line x1="555" y1="479.812" x2="560" y2="479.188" stroke="#ff0000" stroke-width="1"/>
<line x1="563" y1="478.812" x2="568" y2="478.5" stroke="#ff0000" stroke-width="1"/>
<line x1="571" y1="478.5" x2="576" y2="478.188" stroke="#ff0000" stroke-width="1"/>
<line x1="579" y1="477.812" x2="584" y2="477.5" stroke="#ff0000" stroke-width="1"/>
<line x1="587" y1="477.5" x2="592" y2="477.812" stroke="#ff0000" stroke-width="1"/>
<line x1="595" y1="478.188" x2="600" y2="479.438" stroke="#ff0000" stroke-width="1"/>
<line x1="603" y1="480.562" x2="608" y2="482.594" stroke="#ff0000" stroke-width="1"/>
<line x1="611" y1="483.906" x2="616" y2="486.406" stroke="#ff0000" stroke-width="1"/>
<line x1="619" y1="488.094" x2="624" y2="491.375" stroke="#ff0000" stroke-width="1"/>
<line x1="627" y1="493.625" x2="632" y2="497.688" stroke="#ff0000" stroke-width="1"/>
<line x1="635" y1="500.312" x2="640" y2="504.375" stroke="#ff0000" stroke-width="1"/>
<line x1="643" y1="506.625" x2="648" y2="510.531" stroke="#ff0000" stroke-width="1"/>
<line x1="651" y1="512.969" x2="656" y2="516.875" stroke="#ff0000" stroke-width="1"/>
<line x1="659" y1="519.125" x2="664" y2="522.562" stroke="#ff0000" stroke-width="1"/>
<line x1="667" y1="524.438" x2="672" y2="527.25" stroke="#ff0000" stroke-width="1"/>
<line x1="675" y1="528.75" x2="680" y2="531.094" stroke="#ff0000" stroke-width="1"/>
<line x1="683" y1="532.406" x2="688" y2="534.125" stroke="#ff0000" stroke-width="1"/>
<line x1="691" y1="534.875" x2="696" y2="536.594" stroke="#ff0000" stroke-width="1"/>
<line x1="699" y1="537.906" x2="704" y2="540.094" stroke="#ff0000" stroke-width="1"/>
<line x1="707" y1="541.406" x2="712" y2="543.125" stroke="#ff0000" stroke-width="1"/>
<line x1="715" y1="543.875" x2="720" y2="544.812" stroke="#ff0000" stroke-width="1"/>
<line x1="723" y1="545.188" x2="728" y2="545.5" stroke="#ff0000" stroke-width="1"/>
<line x1="731" y1="545.5" x2="736" y2="545.188" stroke="#ff0000" stroke-width="1"/>
<line x1="739" y1="544.812" x2="744" y2="544.188" stroke="#ff0000" stroke-width="1"/>
<line x1="747" y1="543.812" x2="752" y2="542.719" stroke="#ff0000" stroke-width="1"/>
<line x1="755" y1="541.781" x2="760" y2="539.75" stroke="#ff0000" stroke-width="1"/>
<line x1="763" y1="538.25" x2="768" y2="535.125" stroke="#ff0000" stroke-width="1"/>
<line x1="771" y1="532.875" x2="776" y2="529.125" stroke="#ff0000" stroke-width="1"/>
<line x1="779" y1="526.875" x2="784" y2="522.969" stroke="#ff0000" stroke-width="1"/>
<line x1="787" y1="520.531" x2="792" y2="516.938" stroke="#ff0000" stroke-width="1"/>
<line x1="795" y1="515.062" x2="800" y2="511.938" stroke="#ff0000" stroke-width="1"/>
<line x1="803" y1="510.062" x2="808" y2="506.938" stroke="#ff0000" stroke-width="1"/>
<line x1="811" y1="505.062" x2="816" y2="502.25" stroke="#ff0000" stroke-width="1"/>
<line x1="819" y1="500.75" x2="824" y2="498.406" stroke="#ff0000" stroke-width="1"/>
<line x1="827" y1="497.094" x2="832" y2="495.531" stroke="#ff0000" stroke-width="1"/>
<line x1="835" y1="494.969" x2="840" y2="494.188" stroke="#ff0000" stroke-width="1"/>
<line x1="843" y1="493.812" x2="848" y2="493.188" stroke="#ff0000" stroke-width="1"/>
<line x1="851" y1="492.812" x2="856" y2="492.5" stroke="#ff0000" stroke-width="1"/>
<line x1="859" y1="492.5" x2="864" y2="492.5" stroke="#ff0000" stroke-width="1"/>
<line x1="867" y1="492.5" x2="872" y2="492.188" stroke="#ff0000" stroke-width="1"/>
<line x1="875" y1="491.812" x2="880" y2="491.188" stroke="#ff0000" stroke-width="1"/>
<line x1="883" y1="490.812" x2="888" y2="490.188" stroke="#ff0000" stroke-width="1"/>
<line x1="891" y1="489.812" x2="896" y2="488.562" stroke="#ff0000" stroke-width="1"/>
<line x1="899" y1="487.438" x2="904" y2="485.562" stroke="#ff0000" stroke-width="1"/>
<line x1="907" y1="484.438" x2="912" y2="482.562" stroke="#ff0000" stroke-width="1"/>
<line x1="915" y1="481.438" x2="920" y2="479.25" stroke="#ff0000" stroke-width="1"/>
<line x1="923" y1="477.75" x2="928" y2="475.562" stroke="#ff0000" stroke-width="1"/>
<line x1="931" y1="474.438" x2="936" y2="472.562" stroke="#ff0000" stroke-width="1"/>
<line x1="939" y1="471.438" x2="942.5" y2="470.5" stroke="#ff0000" stroke-width="1"/>
<line x1="6" y1="601.5" x2="1197" y2="601.5" stroke="#c0c0c0" stroke-width="1" stroke-dasharray="3 3"/>
<line x1="6" y1="641.5" x2="1197" y2="641.5" stroke="#c0c0c0" stroke-width="1" stroke-dasharray="3 3"/>
<polyline points="5.5,636.4 13.5,637.3 21.5,632.6 29.5,634.3 37.5,630.1 45.5,631.4 53.5,633 61.5,636.4 69.5,632 77.5,626.4 85.5,629.5 93.5,635.8 101.5,639.5 109.5,640.8 117.5,630.4 125.5,632.3 133.5,623.2 141.5,624.5 149.5,627.3 157.5,628.3 165.5,618.6 173.5,621.1 181.5,625.1 189.5,624.1 197.5,623.3 205.5,624.1 213.5,630.2 221.5,637.4 229.5,637.4 237.5,632.4 245.5,636.4 253.5,639.3 261.5,640.2 269.5,646.5 277.5,632.4 285.5,632.4 293.5,639.2 301.5,630.8 309.5,629.5 317.5,626.4 325.5,628.3 333.5,627.3 341.5,625.5 349.5,630.2 357.5,632.3 365.5,633.5 373.5,629.5 381.5,629.5 389.5,624.3 397.5,626.4 405.5,622.4 413.5,625.5 421.5,625.5 429.5,621.1 437.5,625.2 445.5,623.3 453.5,632.3 461.5,628.3 469.5,626.4 477.5,622.3 485.5,629.3 493.5,631.4 501.5,626.4 509.5,626.4 517.5,628.5 525.5,625.1 533.5,623.3 541.5,620.1 549.5,626.4 557.5,624.1 565.5,626.1 573.5,628.3 581.5,632.3 589.5,633.5 597.5,643.3 605.5,646.5 613.5,649.4 621.5,651.5 629.5,652.4 637.5,652.4 645.5,637.4 653.5,639.2 661.5,644.3 669.5,629.3 677.5,635.2 685.5,637.4 693.5,641.5 701.5,646.5 709.5,640.8 717.5,630.2 725.5,622.4 733.5,625.5 741.5,626.4 749.5,623.3 757.5,624.3 765.5,624.3 773.5,624.3 781.5,624.3 789.5,624.3 797.5,622.4 805.5,624.3 813.5,624.3 821.5,626.4 829.5,630.4 837.5,631.4 845.5,630.4 853.5,631.4 861.5,631.4 869.5,620.5 877.5,617.4 885.5,620.5 893.5,620.5 901.5,616.4 909.5,616.4 917.5,619.5 925.5,619.5 933.5,623.3 941.5,624.5" fill="none" stroke="#1e90ff" stroke-width="1" />
<rect x="4" y="5" width="1194" height="1" fill="#000"/>
<rect x="4" y="454" width="1194" height="1" fill="#000"/>
<rect x="4" y="5" width="1" height="450" fill="#000"/>
<rect x="1197" y="5" width="1" height="450" fill="#000"/>
<rect x="4" y="456" width="1194" height="1" fill="#000"/>
<rect x="4" y="568" width="1194" height="1" fill="#000"/>
<rect x="4" y="456" width="1" height="113" fill="#000"/>
<rect x="1197" y="456" width="1" height="113" fill="#000"/>
<rect x="4" y="570" width="1194" height="1" fill="#000"/>
<rect x="4" y="671" width="1194" height="1" fill="#000"/>
<rect x="4" y="570" width="1" height="102" fill="#000"/>
<rect x="1197" y="570" width="1" height="102" fill="#000"/>
<rect x="5" y="208" width="1193" height="2" fill="#ff0000"/>
<rect x="5" y="266" width="1193" height="2" fill="#ff0000"/>
<rect x="5" y="331" width="1193" height="2" fill="#00d800"/>
<rect x="5" y="394" width="1193" height="2" fill="#4257e8"/>
<rect x="5" y="672" width="1" height="3" fill="#000"/>
<rect x="69" y="672" width="1" height="3" fill="#000"/>
<rect x="133" y="672" width="1" height="3" fill="#000"/>
<rect x="197" y="672" width="1" height="3" fill="#000"/>
<rect x="261" y="672" width="1" height="3" fill="#000"/>
<rect x="325" y="672" width="1" height="3" fill="#000"/>
<rect x="389" y="672" width="1" height="3" fill="#000"/>
<rect x="453" y="672" width="1" height="3" fill="#000"/>
<rect x="517" y="672" width="1" height="3" fill="#000"/>
<rect x="581" y="672" width="1" height="3" fill="#000"/>
<rect x="645" y="672" width="1" height="3" fill="#000"/>
<rect x="709" y="672" width="1" height="3" fill="#000"/>
<rect x="773" y="672" width="1" height="3" fill="#000"/>
<rect x="837" y="672" width="1" height="3" fill="#000"/>
<rect x="901" y="672" width="1" height="3" fill="#000"/>
<rect x="1198" y="22" width="2" height="1" fill="#000"/>
<rect x="1198" y="55" width="2" height="1" fill="#000"/>
<rect x="1198" y="88" width="2" height="1" fill="#000"/>
<rect x="1198" y="121" width="2" height="1" fill="#000"/>
<rect x="1198" y="154" width="2" height="1" fill="#000"/>
<rect x="1198" y="187" width="2" height="1" fill="#000"/>
<rect x="1198" y="220" width="2" height="1" fill="#000"/>
<rect x="1198" y="253" width="2" height="1" fill="#000"/>
<rect x="1198" y="286" width="2" height="1" fill="#000"/>
<rect x="1198" y="352" width="2" height="1" fill="#000"/>
<rect x="1198" y="385" width="2" height="1" fill="#000"/>
<rect x="1198" y="418" width="2" height="1" fill="#000"/>
<rect x="1198" y="451" width="2" height="1" fill="#000"/>
<rect x="1198" y="319" width="3" height="1" fill="#000"/>
<rect x="1198" y="458" width="1" height="1" fill="#000"/>
<rect x="1198" y="462" width="1" height="1" fill="#000"/>
<g shape-rendering="auto" text-rendering="geometricPrecision" font-family="'Liberation Sans', sans-serif">
<text x="1203" y="26" font-size="10" fill="#000" stroke="#000" stroke-width="0.2" textLength="27.5" lengthAdjust="spacingAndGlyphs" >4880.0</text>
<text x="1203" y="59" font-size="10" fill="#000" stroke="#000" stroke-width="0.2" textLength="27.5" lengthAdjust="spacingAndGlyphs" >4804.0</text>
<text x="1203" y="92" font-size="10" fill="#000" stroke="#000" stroke-width="0.2" textLength="27.5" lengthAdjust="spacingAndGlyphs" >4728.0</text>
<text x="1203" y="125" font-size="10" fill="#000" stroke="#000" stroke-width="0.2" textLength="27.5" lengthAdjust="spacingAndGlyphs" >4652.0</text>
<text x="1203" y="158" font-size="10" fill="#000" stroke="#000" stroke-width="0.2" textLength="27.5" lengthAdjust="spacingAndGlyphs" >4576.0</text>
<text x="1203" y="191" font-size="10" fill="#000" stroke="#000" stroke-width="0.2" textLength="27.5" lengthAdjust="spacingAndGlyphs" >4500.0</text>
<text x="1203" y="224" font-size="10" fill="#000" stroke="#000" stroke-width="0.2" textLength="27.5" lengthAdjust="spacingAndGlyphs" >4424.0</text>
<text x="1203" y="257" font-size="10" fill="#000" stroke="#000" stroke-width="0.2" textLength="27.5" lengthAdjust="spacingAndGlyphs" >4348.0</text>
<text x="1203" y="290" font-size="10" fill="#000" stroke="#000" stroke-width="0.2" textLength="27.5" lengthAdjust="spacingAndGlyphs" >4272.0</text>
<text x="1203" y="356" font-size="10" fill="#000" stroke="#000" stroke-width="0.2" textLength="27.5" lengthAdjust="spacingAndGlyphs" >4120.0</text>
<text x="1203" y="389" font-size="10" fill="#000" stroke="#000" stroke-width="0.2" textLength="27.5" lengthAdjust="spacingAndGlyphs" >4044.0</text>
<text x="1203" y="422" font-size="10" fill="#000" stroke="#000" stroke-width="0.2" textLength="27.5" lengthAdjust="spacingAndGlyphs" >3968.0</text>
<text x="1203" y="455" font-size="10" fill="#000" stroke="#000" stroke-width="0.2" textLength="27.5" lengthAdjust="spacingAndGlyphs" >3892.0</text>
<g shape-rendering="crispEdges">
<rect x="1200" y="203" width="34" height="11" fill="#ff0000"/>
<rect x="1200" y="261" width="34" height="11" fill="#ff0000"/>
<rect x="1200" y="315" width="34" height="11" fill="#000000"/>
<rect x="1200" y="326" width="34" height="11" fill="#00d800"/>
<rect x="1200" y="389" width="34" height="11" fill="#4257e8"/>
</g>
<text x="1203" y="212" font-size="10" fill="#fff" stroke="#fff" stroke-width="0.2" textLength="27.5" lengthAdjust="spacingAndGlyphs" >4450.0</text>
<text x="1203" y="270" font-size="10" fill="#fff" stroke="#fff" stroke-width="0.2" textLength="27.5" lengthAdjust="spacingAndGlyphs" >4315.0</text>
<text x="1203" y="324" font-size="10" fill="#fff" stroke="#fff" stroke-width="0.2" textLength="27.5" lengthAdjust="spacingAndGlyphs" >4194.4</text>
<text x="1203" y="335" font-size="10" fill="#fff" stroke="#fff" stroke-width="0.2" textLength="27.5" lengthAdjust="spacingAndGlyphs" >4165.0</text>
<text x="1203" y="398" font-size="10" fill="#fff" stroke="#fff" stroke-width="0.2" textLength="27.5" lengthAdjust="spacingAndGlyphs" >4019.7</text>
<text x="1201" y="466.5" font-size="10" fill="#000" stroke="#000" stroke-width="0.2" textLength="17.4992" lengthAdjust="spacingAndGlyphs" >0.00</text>
<text x="1201" y="466.5" font-size="10" fill="#000" stroke="#000" stroke-width="0.2" textLength="17.4992" lengthAdjust="spacingAndGlyphs" >8.04</text>
<text x="1201" y="565" font-size="10" fill="#000" stroke="#000" stroke-width="0.2" textLength="31" lengthAdjust="spacingAndGlyphs" >-140.44</text>
<text x="1201.6" y="581" font-size="10" fill="#000" stroke="#000" stroke-width="0.2" textLength="13.6" lengthAdjust="spacingAndGlyphs" >100</text>
<text x="1200" y="605" font-size="10" fill="#000" stroke="#000" stroke-width="0.2" textLength="10.0008" lengthAdjust="spacingAndGlyphs" >70</text>
<text x="1200" y="645" font-size="10" fill="#000" stroke="#000" stroke-width="0.2" textLength="10.0008" lengthAdjust="spacingAndGlyphs" >30</text>
<text x="1201" y="668" font-size="10" fill="#000" stroke="#000" stroke-width="0.2" textLength="5.00038" lengthAdjust="spacingAndGlyphs" >0</text>
<text x="3.8" y="684" font-size="10" fill="#000" stroke="#000" stroke-width="0.2" textLength="44" lengthAdjust="spacingAndGlyphs" >6 Jan 2022</text>
<text x="67.8" y="684" font-size="10" fill="#000" stroke="#000" stroke-width="0.2" textLength="52" lengthAdjust="spacingAndGlyphs" >12 Jan 01:30</text>
<text x="131.8" y="684" font-size="10" fill="#000" stroke="#000" stroke-width="0.2" textLength="52" lengthAdjust="spacingAndGlyphs" >18 Jan 01:30</text>
<text x="195.8" y="684" font-size="10" fill="#000" stroke="#000" stroke-width="0.2" textLength="52" lengthAdjust="spacingAndGlyphs" >24 Jan 01:30</text>
<text x="259.8" y="684" font-size="10" fill="#000" stroke="#000" stroke-width="0.2" textLength="52" lengthAdjust="spacingAndGlyphs" >28 Jan 01:30</text>
<text x="323.8" y="684" font-size="10" fill="#000" stroke="#000" stroke-width="0.2" textLength="53.7" lengthAdjust="spacingAndGlyphs" >10 Feb 01:30</text>
<text x="387.8" y="684" font-size="10" fill="#000" stroke="#000" stroke-width="0.2" textLength="53.7" lengthAdjust="spacingAndGlyphs" >16 Feb 01:30</text>
<text x="451.8" y="684" font-size="10" fill="#000" stroke="#000" stroke-width="0.2" textLength="53.7" lengthAdjust="spacingAndGlyphs" >22 Feb 01:30</text>
<text x="515.8" y="684" font-size="10" fill="#000" stroke="#000" stroke-width="0.2" textLength="53.7" lengthAdjust="spacingAndGlyphs" >28 Feb 01:30</text>
<text x="579.8" y="684" font-size="10" fill="#000" stroke="#000" stroke-width="0.2" textLength="49" lengthAdjust="spacingAndGlyphs" >4 Mar 01:30</text>
<text x="643.8" y="684" font-size="10" fill="#000" stroke="#000" stroke-width="0.2" textLength="53.8" lengthAdjust="spacingAndGlyphs" >10 Mar 01:30</text>
<text x="707.8" y="684" font-size="10" fill="#000" stroke="#000" stroke-width="0.2" textLength="53.8" lengthAdjust="spacingAndGlyphs" >16 Mar 01:30</text>
<text x="771.8" y="684" font-size="10" fill="#000" stroke="#000" stroke-width="0.2" textLength="53.8" lengthAdjust="spacingAndGlyphs" >22 Mar 01:30</text>
<text x="835.8" y="684" font-size="10" fill="#000" stroke="#000" stroke-width="0.2" textLength="53.8" lengthAdjust="spacingAndGlyphs" >28 Mar 01:30</text>
<text x="899.8" y="684" font-size="10" fill="#000" stroke="#000" stroke-width="0.2" textLength="48.3" lengthAdjust="spacingAndGlyphs" >1 Apr 01:30</text>
<text x="20" y="17" font-size="10" fill="#000" stroke="#000" stroke-width="0.2" textLength="65" lengthAdjust="spacingAndGlyphs" >CHINA300-,H4</text>
<text x="91" y="17" font-size="10" fill="#000" stroke="#000" stroke-width="0.2" textLength="121.2" lengthAdjust="spacingAndGlyphs" >4204.6 4220.6 4187.0 4194.4</text>
<text x="9" y="469" font-size="10" fill="#000" stroke="#000" stroke-width="0.2" textLength="113.5" lengthAdjust="spacingAndGlyphs" >MACD(12,26,9) -2.96 -9.94</text>
<text x="8.5" y="583" font-size="10" fill="#000" stroke="#000" stroke-width="0.2" textLength="67.5" lengthAdjust="spacingAndGlyphs" >RSI(14) 47.0662</text>
<polygon points="8,12 15,12 11.5,16" fill="#000"/>
</g>
<g shape-rendering="auto" fill="#ff0000" font-family="'Liberation Sans', 'Noto Sans CJK SC', sans-serif">
<text x="785" y="165.5" font-size="35.4" textLength="177" lengthAdjust="spacingAndGlyphs">多空转折点</text>
<text x="960.6" y="165.5" font-size="34.5" textLength="75.4453" lengthAdjust="spacingAndGlyphs">4165</text>
</g>
</svg>
</body></html>
